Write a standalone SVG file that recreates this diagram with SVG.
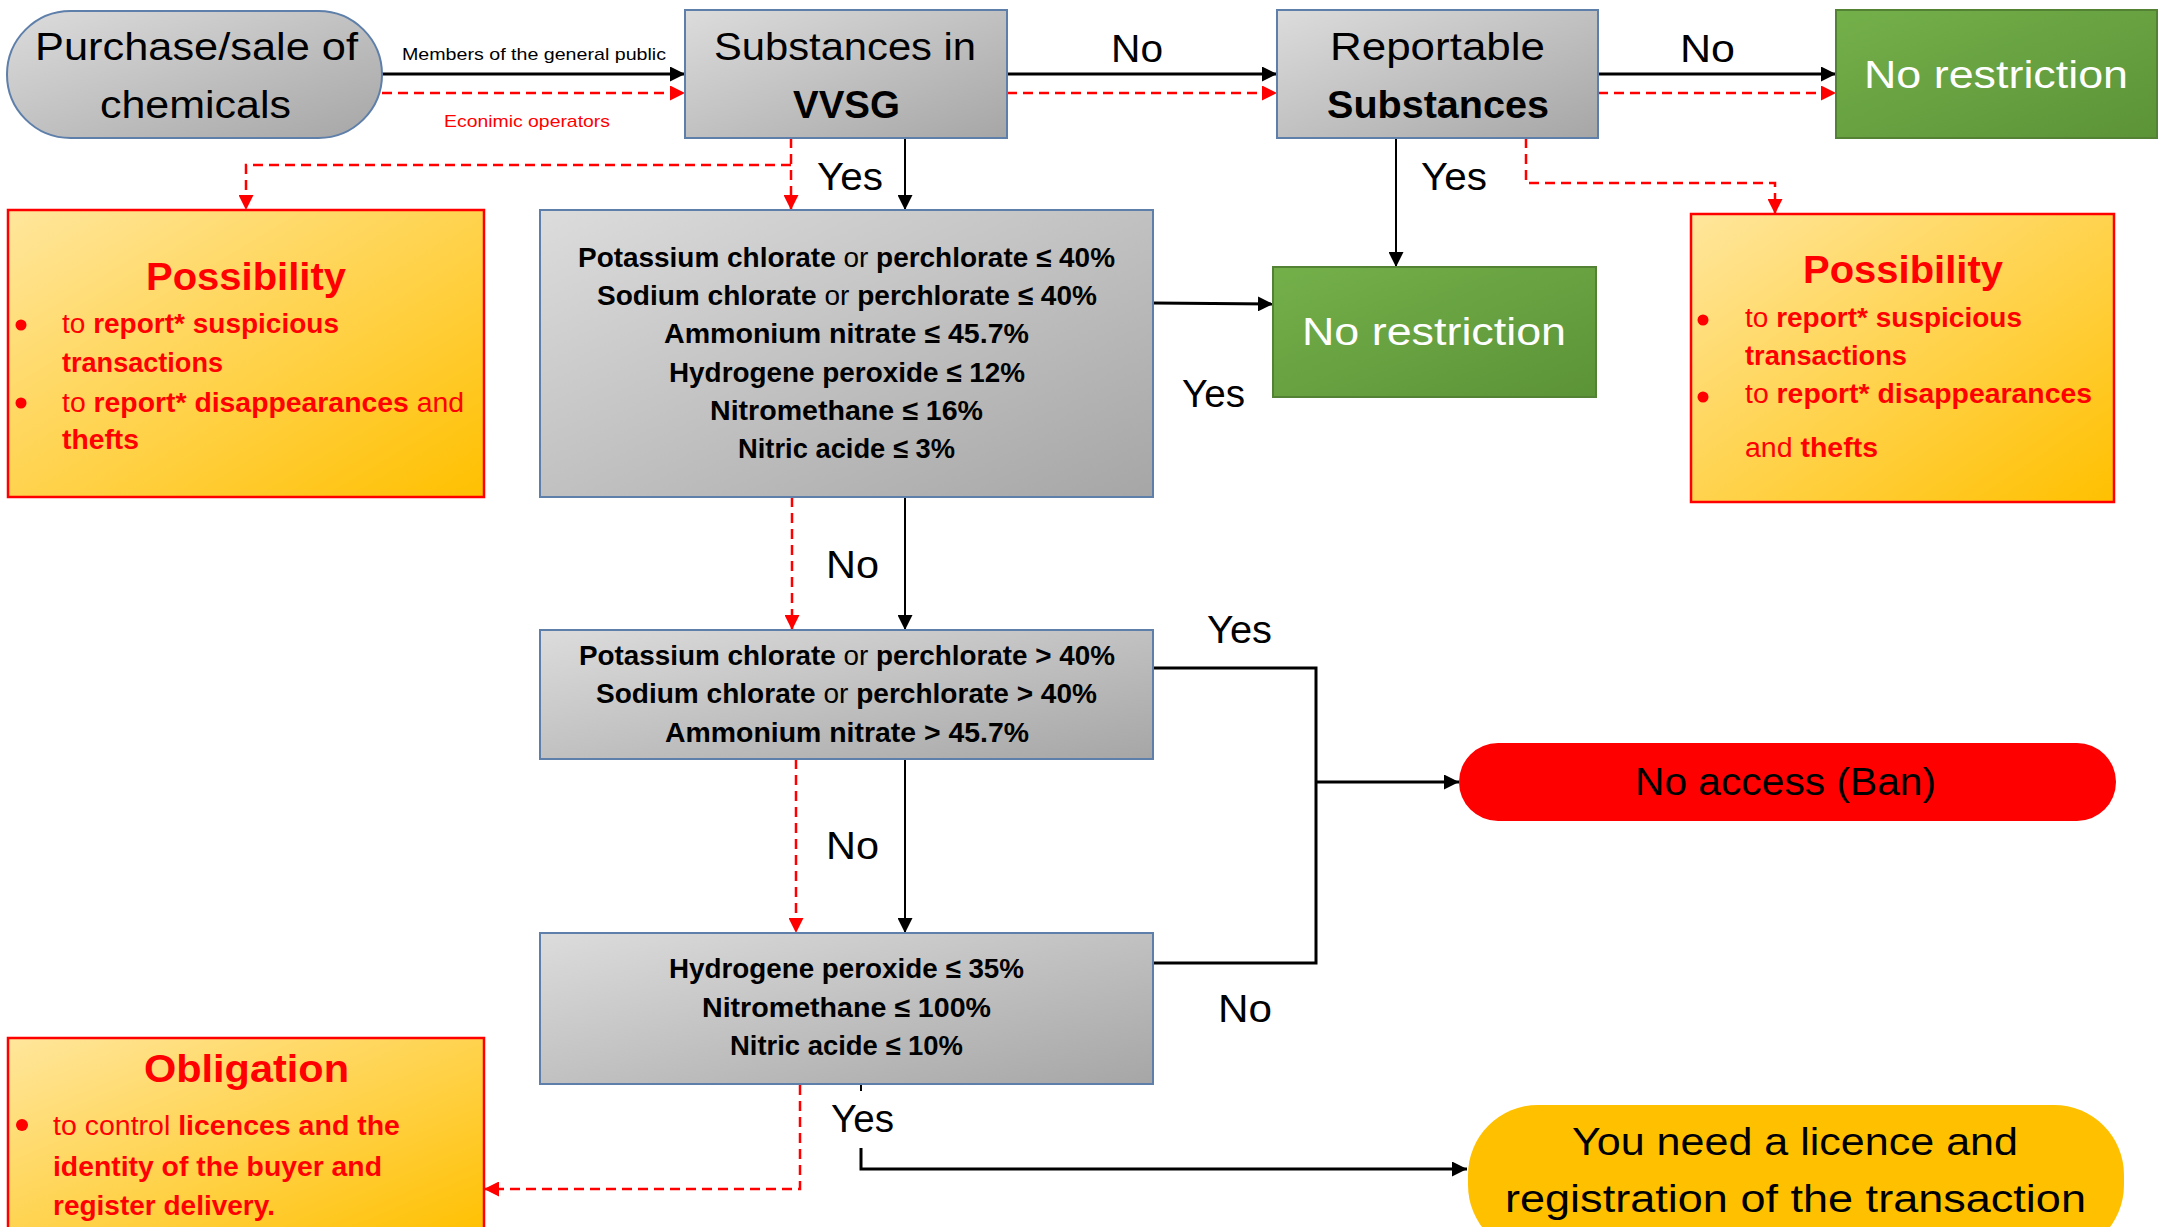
<svg xmlns="http://www.w3.org/2000/svg" width="2158" height="1227" viewBox="0 0 2158 1227">
<defs>
  <linearGradient id="gGray" x1="0" y1="0" x2="1" y2="1">
    <stop offset="0" stop-color="#DCDCDC"/>
    <stop offset="1" stop-color="#A6A6A6"/>
  </linearGradient>
  <linearGradient id="gGreen" x1="0" y1="0" x2="1" y2="1">
    <stop offset="0" stop-color="#74B04A"/>
    <stop offset="1" stop-color="#5B9337"/>
  </linearGradient>
  <linearGradient id="gYellow" x1="0" y1="0" x2="1" y2="1">
    <stop offset="0" stop-color="#FFE69C"/>
    <stop offset="1" stop-color="#FFC000"/>
  </linearGradient>
  <marker id="ab" viewBox="0 0 10 10" refX="10" refY="5" markerWidth="15" markerHeight="15" markerUnits="userSpaceOnUse" orient="auto">
    <path d="M0,0 L10,5 L0,10 z" fill="#000"/>
  </marker>
  <marker id="ar" viewBox="0 0 10 10" refX="10" refY="5" markerWidth="15" markerHeight="15" markerUnits="userSpaceOnUse" orient="auto">
    <path d="M0,0 L10,5 L0,10 z" fill="#FF0000"/>
  </marker>
</defs>
<style>
  text { font-family: "Liberation Sans", Arial, sans-serif; }
  .big { font-size: 38px; fill: #000; }
  .wh { fill: #fff; }
  .small { font-size: 17px; }
  .cond { font-size: 28px; font-weight: bold; fill: #000; }
  .title { font-size: 39px; font-weight: bold; fill: #FF0000; }
  .bl { font-size: 27px; font-weight: bold; fill: #FF0000; }
  .n { font-weight: normal; }
  .b { font-weight: bold; }
  .gbox { fill: url(#gGray); stroke: #5E7FAA; stroke-width: 2; }
  .grn { fill: url(#gGreen); stroke: #548235; stroke-width: 2; }
  .ybox { fill: url(#gYellow); stroke: #FF0000; stroke-width: 2.5; }
  .k { fill: none; stroke: #000; stroke-width: 2; }
  .k3 { fill: none; stroke: #000; stroke-width: 3; }
  .r { fill: none; stroke: #FF0000; stroke-width: 2.5; stroke-dasharray: 10 6; }
  .dot { fill: #FF0000; }
</style>

<g id="connectors">
  <line class="k3" x1="382" y1="74" x2="685" y2="74" marker-end="url(#ab)"/>
  <line class="r" x1="382" y1="93" x2="685" y2="93" marker-end="url(#ar)"/>
  <line class="k3" x1="1007" y1="74" x2="1277" y2="74" marker-end="url(#ab)"/>
  <line class="r" x1="1007" y1="93" x2="1277" y2="93" marker-end="url(#ar)"/>
  <line class="k3" x1="1598" y1="74" x2="1836" y2="74" marker-end="url(#ab)"/>
  <line class="r" x1="1598" y1="93" x2="1836" y2="93" marker-end="url(#ar)"/>

  <line class="k" x1="905" y1="138" x2="905" y2="210" marker-end="url(#ab)"/>
  <line class="r" x1="791" y1="138" x2="791" y2="210" marker-end="url(#ar)"/>
  <polyline class="r" points="791,165 246,165 246,210" marker-end="url(#ar)"/>

  <line class="k" x1="1396" y1="138" x2="1396" y2="267" marker-end="url(#ab)"/>
  <polyline class="r" points="1526,138 1526,183 1775,183 1775,214" marker-end="url(#ar)"/>

  <line class="k3" x1="1153" y1="303" x2="1273" y2="304" marker-end="url(#ab)"/>

  <line class="k" x1="905" y1="497" x2="905" y2="630" marker-end="url(#ab)"/>
  <line class="r" x1="792" y1="497" x2="792" y2="630" marker-end="url(#ar)"/>

  <polyline class="k3" points="1153,668 1316,668 1316,963 1153,963"/>
  <line class="k3" x1="1316" y1="782" x2="1459" y2="782" marker-end="url(#ab)"/>

  <line class="k" x1="905" y1="759" x2="905" y2="933" marker-end="url(#ab)"/>
  <line class="r" x1="796" y1="759" x2="796" y2="933" marker-end="url(#ar)"/>

  <line class="k" x1="861" y1="1085" x2="861" y2="1091"/>
  <polyline class="k3" points="861,1148 861,1169 1467,1169" marker-end="url(#ab)"/>
  <polyline class="r" points="800,1085 800,1189 484,1189" marker-end="url(#ar)"/>

  <text class="small" x="402" y="60" textLength="264" lengthAdjust="spacingAndGlyphs">Members of the general public</text>
  <text class="small" x="444" y="127" textLength="166" lengthAdjust="spacingAndGlyphs" fill="#FF0000">Econimic operators</text>
  <text class="big" x="1111" y="62" textLength="52" lengthAdjust="spacingAndGlyphs">No</text>
  <text class="big" x="1680" y="62" textLength="55" lengthAdjust="spacingAndGlyphs">No</text>
  <text class="big" x="817" y="190" textLength="66" lengthAdjust="spacingAndGlyphs">Yes</text>
  <text class="big" x="1421" y="190" textLength="66" lengthAdjust="spacingAndGlyphs">Yes</text>
  <text class="big" x="1182" y="407" textLength="63" lengthAdjust="spacingAndGlyphs">Yes</text>
  <text class="big" x="826" y="578" textLength="53" lengthAdjust="spacingAndGlyphs">No</text>
  <text class="big" x="1207" y="643" textLength="65" lengthAdjust="spacingAndGlyphs">Yes</text>
  <text class="big" x="826" y="859" textLength="53" lengthAdjust="spacingAndGlyphs">No</text>
  <text class="big" x="1218" y="1022" textLength="54" lengthAdjust="spacingAndGlyphs">No</text>
  <text class="big" x="831" y="1132" textLength="63" lengthAdjust="spacingAndGlyphs">Yes</text>
</g>

<g id="purchase">
  <rect class="gbox" x="7" y="11" width="375" height="127" rx="63.5" ry="63.5"/>
  <text class="big" x="35" y="60" textLength="323" lengthAdjust="spacingAndGlyphs">Purchase/sale of</text>
  <text class="big" x="100" y="118" textLength="191" lengthAdjust="spacingAndGlyphs">chemicals</text>
</g>

<g id="vvsg">
  <rect class="gbox" x="685" y="10" width="322" height="128"/>
  <text class="big" x="714" y="60" textLength="262" lengthAdjust="spacingAndGlyphs">Substances in</text>
  <text class="big b" x="793" y="118" textLength="107" lengthAdjust="spacingAndGlyphs">VVSG</text>
</g>

<g id="reportable">
  <rect class="gbox" x="1277" y="10" width="321" height="128"/>
  <text class="big" x="1330" y="60" textLength="215" lengthAdjust="spacingAndGlyphs">Reportable</text>
  <text class="big b" x="1327" y="118" textLength="222" lengthAdjust="spacingAndGlyphs">Substances</text>
</g>

<g id="norestriction-top">
  <rect class="grn" x="1836" y="10" width="321" height="128"/>
  <text class="big wh" x="1864" y="88" textLength="264" lengthAdjust="spacingAndGlyphs">No restriction</text>
</g>

<g id="possibility-left">
  <rect class="ybox" x="8" y="210" width="476" height="287"/>
  <text class="title" x="146" y="290" textLength="200" lengthAdjust="spacingAndGlyphs">Possibility</text>
  <circle class="dot" cx="21" cy="325" r="5.5"/>
  <circle class="dot" cx="21" cy="403" r="5.5"/>
  <text class="bl" x="62" y="333" textLength="277" lengthAdjust="spacingAndGlyphs"><tspan class="n">to </tspan>report* suspicious</text>
  <text class="bl" x="62" y="372" textLength="161" lengthAdjust="spacingAndGlyphs">transactions</text>
  <text class="bl" x="62" y="412" textLength="402" lengthAdjust="spacingAndGlyphs"><tspan class="n">to </tspan>report* disappearances<tspan class="n"> and</tspan></text>
  <text class="bl" x="62" y="449" textLength="77" lengthAdjust="spacingAndGlyphs">thefts</text>
</g>

<g id="cond1">
  <rect class="gbox" x="540" y="210" width="613" height="287"/>
  <text class="cond" x="578" y="267" textLength="537" lengthAdjust="spacingAndGlyphs">Potassium chlorate<tspan class="n"> or </tspan>perchlorate ≤ 40%</text>
  <text class="cond" x="597" y="305" textLength="500" lengthAdjust="spacingAndGlyphs">Sodium chlorate<tspan class="n"> or </tspan>perchlorate ≤ 40%</text>
  <text class="cond" x="664" y="343" textLength="365" lengthAdjust="spacingAndGlyphs">Ammonium nitrate ≤ 45.7%</text>
  <text class="cond" x="669" y="382" textLength="356" lengthAdjust="spacingAndGlyphs">Hydrogene peroxide ≤ 12%</text>
  <text class="cond" x="710" y="420" textLength="273" lengthAdjust="spacingAndGlyphs">Nitromethane ≤ 16%</text>
  <text class="cond" x="738" y="458" textLength="217" lengthAdjust="spacingAndGlyphs">Nitric acide ≤ 3%</text>
</g>

<g id="norestriction-mid">
  <rect class="grn" x="1273" y="267" width="323" height="130"/>
  <text class="big wh" x="1302" y="345" textLength="264" lengthAdjust="spacingAndGlyphs">No restriction</text>
</g>

<g id="possibility-right">
  <rect class="ybox" x="1691" y="214" width="423" height="288"/>
  <text class="title" x="1803" y="283" textLength="200" lengthAdjust="spacingAndGlyphs">Possibility</text>
  <circle class="dot" cx="1703" cy="320" r="5.5"/>
  <circle class="dot" cx="1703" cy="397" r="5.5"/>
  <text class="bl" x="1745" y="327" textLength="277" lengthAdjust="spacingAndGlyphs"><tspan class="n">to </tspan>report* suspicious</text>
  <text class="bl" x="1745" y="365" textLength="162" lengthAdjust="spacingAndGlyphs">transactions</text>
  <text class="bl" x="1745" y="403" textLength="347" lengthAdjust="spacingAndGlyphs"><tspan class="n">to </tspan>report* disappearances</text>
  <text class="bl" x="1745" y="457" textLength="133" lengthAdjust="spacingAndGlyphs"><tspan class="n">and </tspan>thefts</text>
</g>

<g id="cond2">
  <rect class="gbox" x="540" y="630" width="613" height="129"/>
  <text class="cond" x="579" y="665" textLength="536" lengthAdjust="spacingAndGlyphs">Potassium chlorate<tspan class="n"> or </tspan>perchlorate &gt; 40%</text>
  <text class="cond" x="596" y="703" textLength="501" lengthAdjust="spacingAndGlyphs">Sodium chlorate<tspan class="n"> or </tspan>perchlorate &gt; 40%</text>
  <text class="cond" x="665" y="742" textLength="364" lengthAdjust="spacingAndGlyphs">Ammonium nitrate &gt; 45.7%</text>
</g>

<g id="ban">
  <rect x="1459" y="743" width="657" height="78" rx="39" ry="39" fill="#FF0000"/>
  <text class="big" x="1635" y="795" textLength="301" lengthAdjust="spacingAndGlyphs">No access (Ban)</text>
</g>

<g id="cond3">
  <rect class="gbox" x="540" y="933" width="613" height="151"/>
  <text class="cond" x="669" y="978" textLength="355" lengthAdjust="spacingAndGlyphs">Hydrogene peroxide ≤ 35%</text>
  <text class="cond" x="702" y="1017" textLength="289" lengthAdjust="spacingAndGlyphs">Nitromethane ≤ 100%</text>
  <text class="cond" x="730" y="1055" textLength="233" lengthAdjust="spacingAndGlyphs">Nitric acide ≤ 10%</text>
</g>

<g id="obligation">
  <rect class="ybox" x="8" y="1038" width="476" height="200"/>
  <text class="title" x="144" y="1082" textLength="205" lengthAdjust="spacingAndGlyphs">Obligation</text>
  <circle class="dot" cx="22" cy="1125" r="6"/>
  <text class="bl" x="53" y="1135" textLength="347" lengthAdjust="spacingAndGlyphs"><tspan class="n">to control </tspan>licences and the</text>
  <text class="bl" x="53" y="1176" textLength="329" lengthAdjust="spacingAndGlyphs">identity of the buyer and</text>
  <text class="bl" x="53" y="1215" textLength="222" lengthAdjust="spacingAndGlyphs">register delivery.</text>
</g>

<g id="licence">
  <rect x="1468" y="1105" width="656" height="150" rx="70" ry="70" fill="#FFC000"/>
  <text class="big" x="1572" y="1155" textLength="446" lengthAdjust="spacingAndGlyphs">You need a licence and</text>
  <text class="big" x="1505" y="1212" textLength="581" lengthAdjust="spacingAndGlyphs">registration of the transaction</text>
</g>
</svg>
